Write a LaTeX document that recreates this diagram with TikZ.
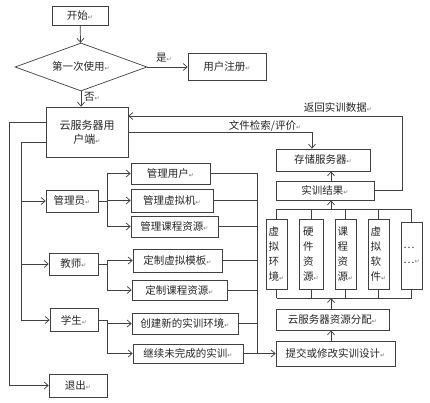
\documentclass[tikz,border=0pt]{standalone}
\usepackage{fontspec}
\usetikzlibrary{arrows.meta,shapes.geometric,calc}
\newfontfamily\cjk{Noto Sans CJK SC}
\newfontfamily\dvs{DejaVu Sans}
\newcommand\rmk{{\dvs\fontsize{6}{6}\selectfont\textcolor{black!55}{↵}}}
\begin{document}
\begin{tikzpicture}[x=1pt,y=-1pt,
  every node/.style={font=\cjk\fontsize{10.5}{14}\selectfont, text=black!85},
  box/.style={draw=black!75, line width=0.7pt, inner sep=0pt, fill=white, align=center},
  vbox/.style={box, align=left, font=\cjk\fontsize{10.5}{15}\selectfont},
  ln/.style={draw=black!75, line width=0.7pt},
  arr/.style={ln, -{Straight Barb[length=4pt,width=7pt]}},
  lbl/.style={inner sep=0pt}]
\useasboundingbox[fill=white] (0,0) rectangle (430,403);
% coordinates
\coordinate (outer) at (9,0);
\coordinate (inner) at (21,0);
\coordinate (jA) at (107,0);
\coordinate (bus) at (257,0);
\coordinate (mid) at (331,0);
\coordinate (fs) at (312,0);
\coordinate (tb) at (0,209);
\coordinate (bb) at (0,298);
\coordinate (rr) at (402,116);
% nodes
\node[box, minimum width=56pt, minimum height=19pt] (start) at (80,15.5) {开始\rmk};
\node[box, diamond, aspect=2.75, minimum width=132pt, minimum height=48pt] (dia) at (81,67) {第一次使用\rmk};
\node[box, minimum width=78pt, minimum height=27pt] (reg) at (227,67) {用户注册\rmk};
\node[box, minimum width=82pt, minimum height=50pt, font=\cjk\fontsize{11}{14}\selectfont] (cloud) at (87,132) {云服务器用\\户端\rmk};
\node[box, minimum width=52pt, minimum height=22pt] (admin) at (72,201) {管理员\rmk};
\node[box, minimum width=49pt, minimum height=22pt] (teacher) at (73.5,264) {教师\rmk};
\node[box, minimum width=48pt, minimum height=23pt] (student) at (74,320) {学生\rmk};
\node[box, minimum width=58pt, minimum height=23pt] (exit) at (78,385.5) {退出\rmk};
\node[box, minimum width=79pt, minimum height=21pt] (mu) at (170.5,173.5) {管理用户\rmk};
\node[box, minimum width=82pt, minimum height=23pt] (mv) at (172,200.5) {管理虚拟机\rmk};
\node[box, minimum width=87pt, minimum height=21pt] (mc) at (174.5,226.5) {管理课程资源\rmk};
\node[box, minimum width=89pt, minimum height=23pt] (tt) at (177.5,260.5) {定制虚拟模板\rmk};
\node[box, minimum width=95pt, minimum height=20pt] (tc) at (179.5,290) {定制课程资源\rmk};
\node[box, minimum width=106pt, minimum height=21pt] (sn) at (185,323.5) {创建新的实训环境\rmk};
\node[box, minimum width=110pt, minimum height=19pt] (sc) at (188,353.5) {继续未完成的实训\rmk};
\node[box, minimum width=119pt, minimum height=25pt] (submit) at (335.5,353.5) {提交或修改实训设计\rmk};
\node[box, minimum width=113pt, minimum height=21pt] (alloc) at (332.5,319.5) {云服务器资源分配\rmk};
\node[vbox, minimum width=21pt, minimum height=70pt] (v1) at (276.5,254) {虚\\拟\\环\\境\rmk};
\node[vbox, minimum width=24pt, minimum height=70pt] (v2) at (311,254) {硬\\件\\资\\源\rmk};
\node[vbox, minimum width=21pt, minimum height=70pt] (v3) at (345.5,254) {课\\程\\资\\源\rmk};
\node[vbox, minimum width=21pt, minimum height=70pt] (v4) at (378.5,254) {虚\\拟\\软\\件\rmk};
\node[vbox, minimum width=21pt, minimum height=67pt] (v5) at (411.5,255.5) {…\\…\rmk};
\node[box, minimum width=98pt, minimum height=19pt] (result) at (325,190.5) {实训结果\rmk};
\node[box, minimum width=94pt, minimum height=22pt] (storage) at (323,160) {存储服务器\rmk};
% labels
\node[lbl] (yes) at (164,58) {是\rmk};
\node[lbl] (no) at (92,97) {否\rmk};
\node[lbl] (ret) at (338,107) {返回实训数据\rmk};
\node[lbl] (file) at (265,126) {文件检索/评价\rmk};
% connectors
\draw[arr] (start) -- (dia);
\draw[arr] (dia) -- (reg);
\draw[arr] (dia.south) -- (dia.south |- cloud.north);
\draw[arr] ([yshift=10pt]cloud.west) -| (outer |- exit.west) -- (exit.west);
\draw[arr] ([yshift=-10pt]cloud.west) -| (inner |- student.west) -- (student.west);
\draw[arr] (inner |- admin.west) -- (admin.west);
\draw[arr] (inner |- teacher.west) -- (teacher.west);
\draw[arr] (admin.east) -- (jA |- admin.east) |- (mu.west);
\draw[arr] (jA |- admin.east) |- (mv.west);
\draw[arr] (jA |- admin.east) |- (mc.west);
\draw[arr] (teacher.east) -- (jA |- teacher.east) |- (tt.west);
\draw[arr] (jA |- teacher.east) |- (tc.west);
\draw[arr] (student.east) -- (jA |- student.east) |- (sn.west);
\draw[arr] (jA |- student.east) |- (sc.west);
\draw[ln] (mu.east) -| (bus |- sc.east);
\draw[ln] (mv.east) -- (bus |- mv.east);
\draw[ln] (mc.east) -- (bus |- mc.east);
\draw[ln] (tt.east) -- (bus |- tt.east);
\draw[ln] (tc.east) -- (bus |- tc.east);
\draw[ln] (sn.east) -- (bus |- sn.east);
\draw[arr] (sc.east) -- (submit.west);
\draw[arr] (mid |- submit.north) -- (mid |- alloc.south);
\draw[arr] (mid |- alloc.north) -- (mid |- bb);
\foreach \v in {v1,v2,v3,v4,v5}{
  \draw[ln] (\v.north) -- (\v.north |- tb);
  \draw[ln] (\v.south) -- (\v.south |- bb);
}
\draw[ln] (v1.north |- tb) -- (v5.north |- tb);
\draw[ln] (v1.south |- bb) -- (v5.south |- bb);
\draw[arr] (mid |- tb) -- (mid |- result.south);
\draw[arr] (mid |- result.north) -- (mid |- storage.south);
\draw[arr] (result.east) -| (rr) -- (cloud.east |- rr);
\draw[arr] (cloud.east) -| (fs |- storage.north);
\end{tikzpicture}
\end{document}
